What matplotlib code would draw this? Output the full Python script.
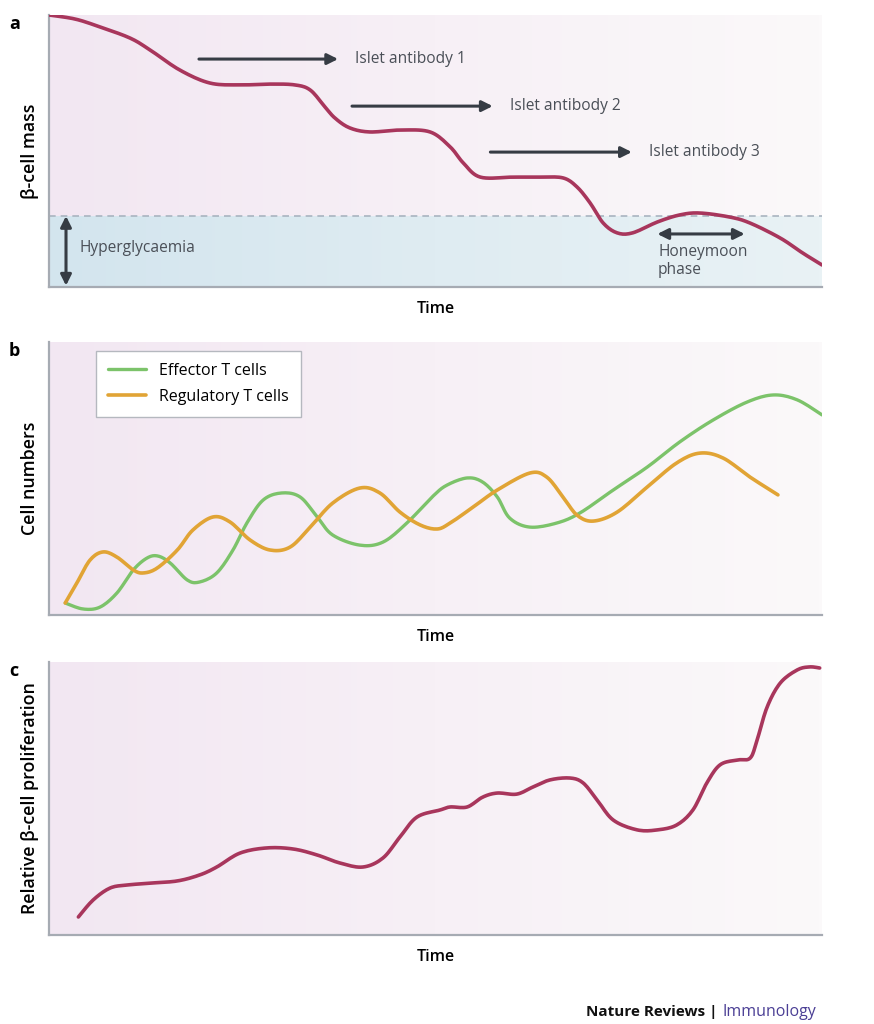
import numpy as np
import matplotlib.pyplot as plt
from matplotlib.colors import LinearSegmentedColormap

# panel a: beta-cell mass over time
mass_t = [0.0, 3.4, 6.6, 10.5, 13.1, 16.9, 20.8, 24.7, 28.6, 31.8, 33.8, 35.7, 37.0,
          38.9, 41.5, 45.4, 49.3, 51.9, 53.6, 55.8, 60.0, 63.5, 66.5, 68.3, 70.0,
          71.7, 73.5, 75.5, 78.7, 81.6, 84.2, 88.1, 90.7, 94.6, 97.5, 100.0]
mass_v = [100.0, 98.5, 95.6, 91.5, 87.1, 79.8, 75.0, 74.3, 74.6, 74.3, 72.4, 66.2, 62.1,
          58.5, 57.0, 57.7, 57.0, 51.5, 45.6, 40.4, 40.4, 40.4, 40.1, 36.8, 30.9,
          23.5, 19.9, 19.9, 23.9, 26.5, 27.2, 25.7, 23.5, 18.0, 12.5, 8.1]
hyper_level = 26.1

# panel b: T cell numbers
eff_t = [2.1, 4.4, 6.6, 8.8, 10.9, 12.7, 14.1, 15.7, 17.9, 19.5, 21.7, 23.8, 25.6, 27.7,
         30.1, 32.5, 34.7, 36.7, 40.2, 43.2, 46.3, 49.7, 51.5, 54.1, 56.1, 58.0, 59.6,
         62.2, 65.7, 68.7, 73.0, 77.4, 81.6, 85.9, 90.3, 93.7, 96.8, 100.0]
eff_v = [4.4, 2.2, 2.9, 8.1, 16.5, 20.9, 21.6, 19.0, 12.8, 12.1, 15.4, 23.8, 33.7, 42.1,
         44.7, 43.2, 35.9, 29.3, 25.6, 26.7, 33.7, 43.6, 47.6, 50.2, 48.7, 43.2, 35.5,
         32.2, 33.7, 37.4, 45.8, 54.2, 63.4, 71.4, 78.0, 80.6, 78.8, 73.3]
reg_t = [2.1, 3.6, 5.3, 7.0, 8.8, 10.9, 12.2, 14.0, 16.6, 18.6, 21.2, 23.4, 26.0, 28.6,
         31.2, 33.8, 36.7, 40.2, 42.8, 45.4, 48.0, 50.2, 51.9, 54.9, 58.0, 62.2, 64.4,
         66.5, 68.3, 70.4, 73.5, 77.4, 81.2, 84.2, 87.2, 90.7, 94.3]
reg_v = [4.4, 11.7, 20.1, 23.1, 21.2, 16.5, 15.4, 17.2, 23.8, 31.1, 35.9, 34.1, 27.5, 23.8,
         24.9, 32.2, 41.0, 46.5, 44.7, 37.7, 33.0, 31.5, 33.7, 39.6, 45.8, 52.0, 50.5,
         43.2, 36.6, 34.4, 37.7, 46.9, 55.7, 59.3, 57.5, 50.5, 44.0]

# panel c: relative beta-cell proliferation
prol_t = [3.8, 5.7, 7.9, 10.1, 13.1, 16.6, 19.5, 21.7, 24.7, 28.2, 31.6, 34.7, 37.6, 40.6,
          43.2, 45.4, 47.6, 50.6, 51.9, 54.1, 56.1, 58.0, 60.5, 62.6, 64.8, 67.4, 69.1,
          70.9, 73.0, 76.1, 78.7, 81.2, 83.3, 85.1, 86.8, 89.0, 90.7, 91.6, 92.9, 94.6,
          96.8, 98.4, 99.7]
prol_v = [6.6, 12.8, 17.2, 18.3, 19.0, 19.8, 22.0, 24.9, 30.0, 31.9, 31.5, 29.3, 26.4, 24.9,
          28.2, 35.9, 43.2, 45.8, 46.9, 46.9, 50.5, 52.0, 51.6, 54.2, 56.8, 57.5, 55.7,
          49.5, 42.1, 38.5, 38.5, 40.3, 45.8, 55.7, 62.3, 64.1, 64.8, 71.4, 83.5, 92.3,
          97.1, 98.2, 97.8]

MAGENTA = '#a8365c'
GREEN = '#7cc36a'
ORANGE = '#e1a435'
ARROW = '#363c44'
SPINE = '#a6abb3'
TXT = '#4a4f57'

plt.rcParams['font.family'] = ['Open Sans', 'DejaVu Sans']

pink = LinearSegmentedColormap.from_list('pink', ['#f2e7f2', '#f7f0f6', '#fbf9fa'])
blue = LinearSegmentedColormap.from_list('blue', ['#d3e5ee', '#dfecf2', '#e9f2f5'])


def smooth(t, v, n=10):
    # Catmull-Rom pass through the points so the line draws as a curve
    p = np.column_stack([t, v]).astype(float)
    p = np.vstack([p[0], p, p[-1]])
    s = np.linspace(0, 1, n, endpoint=False)[:, None]
    out = []
    for i in range(1, len(p) - 2):
        p0, p1, p2, p3 = p[i - 1], p[i], p[i + 1], p[i + 2]
        seg = 0.5 * (2 * p1 + (-p0 + p2) * s + (2 * p0 - 5 * p1 + 4 * p2 - p3) * s ** 2
                     + (-p0 + 3 * p1 - 3 * p2 + p3) * s ** 3)
        out.append(seg)
    out.append(p[-2][None, :])
    out = np.vstack(out)
    return out[:, 0], out[:, 1]


def backdrop(ax, cmap, y0, y1):
    grad = np.linspace(0, 1, 256).reshape(1, -1)
    ax.imshow(grad, cmap=cmap, extent=(0, 100, y0, y1), aspect='auto', zorder=0)


def style(ax, ylabel, letter):
    ax.set_xlim(0, 100)
    ax.set_ylim(0, 100)
    ax.set_xticks([])
    ax.set_yticks([])
    for s in ['top', 'right']:
        ax.spines[s].set_visible(False)
    for s in ['left', 'bottom']:
        ax.spines[s].set_color(SPINE)
        ax.spines[s].set_linewidth(1.6)
    ax.set_xlabel('Time', fontsize=11.5, fontweight='semibold', labelpad=10)
    ax.set_ylabel(ylabel, fontsize=12.8, fontweight='semibold', labelpad=7)
    ax.text(-0.045, 1.0, letter, transform=ax.transAxes, fontsize=13,
            fontweight='bold', ha='center', va='top')


fig = plt.figure(figsize=(8.74, 10.24), dpi=100)
L, W = 49 / 874, 773 / 874
ax_a = fig.add_axes([L, 1 - 287 / 1024, W, 272 / 1024])
ax_b = fig.add_axes([L, 1 - 615 / 1024, W, 273 / 1024])
ax_c = fig.add_axes([L, 1 - 935 / 1024, W, 273 / 1024])

# --- a ---
backdrop(ax_a, pink, hyper_level, 100)
backdrop(ax_a, blue, 0, hyper_level)
ax_a.axhline(hyper_level, color='#a9b4c0', lw=1.2, ls=(0, (4, 3)), zorder=1)
ax_a.plot(*smooth(mass_t, mass_v), color=MAGENTA, lw=2.6, solid_capstyle='round', zorder=3)


def arrow(ax, x0, y0, x1, y1, style='-|>'):
    ax.annotate('', xy=(x1, y1), xytext=(x0, y0),
                arrowprops=dict(arrowstyle=style, color=ARROW, lw=2.2,
                                mutation_scale=16, shrinkA=0, shrinkB=0), zorder=4)


for x0, x1, y, name in [(19.4, 37.4, 83.8, 'Islet antibody 1'),
                        (39.2, 57.4, 66.5, 'Islet antibody 2'),
                        (57.1, 75.4, 49.6, 'Islet antibody 3')]:
    arrow(ax_a, x0, y, x1, y)
    ax_a.text(x1 + 2.2, y, name, fontsize=11.2, color=TXT, va='center')

arrow(ax_a, 2.2, 0.5, 2.2, hyper_level, style='<|-|>')
ax_a.text(4.0, 14.3, 'Hyperglycaemia', fontsize=11.2, color=TXT, va='center')
arrow(ax_a, 78.7, 19.5, 90.0, 19.5, style='<|-|>')
ax_a.text(78.8, 9.5, 'Honeymoon\nphase', fontsize=11.2, color=TXT,
          va='center', linespacing=1.2)
style(ax_a, 'β-cell mass', 'a')

# --- b ---
backdrop(ax_b, pink, 0, 100)
ax_b.plot(*smooth(eff_t, eff_v), color=GREEN, lw=2.4, solid_capstyle='round',
          label='Effector T cells', zorder=3)
ax_b.plot(*smooth(reg_t, reg_v), color=ORANGE, lw=2.6, solid_capstyle='round',
          label='Regulatory T cells', zorder=3)
leg = ax_b.legend(loc='upper left', bbox_to_anchor=(0.061, 0.967), borderaxespad=0,
                  fontsize=11.5, frameon=True, fancybox=False, handlelength=2.4,
                  borderpad=0.75, labelspacing=0.6)
leg.get_frame().set_edgecolor('#b5b8bf')
leg.get_frame().set_linewidth(1.0)
leg.get_frame().set_facecolor('white')
leg.get_frame().set_alpha(1.0)
style(ax_b, 'Cell numbers', 'b')

# --- c ---
backdrop(ax_c, pink, 0, 100)
ax_c.plot(*smooth(prol_t, prol_v), color=MAGENTA, lw=2.6, solid_capstyle='round', zorder=3)
style(ax_c, 'Relative β-cell proliferation', 'c')

fig.text(722 / 874, 1 - 1012 / 1024, 'Immunology', fontsize=11.5, color='#4b3f95',
         ha='left', va='center')
fig.text(718 / 874, 1 - 1012 / 1024, 'Nature Reviews |', fontsize=11,
         fontweight='bold', color='#111111', ha='right', va='center')

fig.savefig('out.png', dpi=100)
